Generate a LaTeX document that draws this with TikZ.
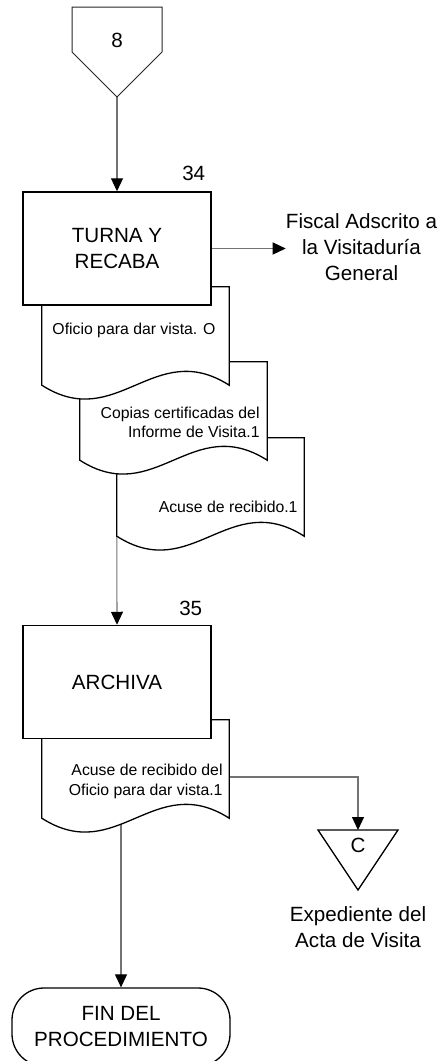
\documentclass[tikz,border=0pt]{standalone}
\usepackage{fontspec}
\setmainfont{Liberation Sans}
\usetikzlibrary{arrows.meta,backgrounds,positioning}

\begin{document}
\begin{tikzpicture}[
  x=1pt, y=-1pt,
  >={Triangle[color=black, length=13pt, width=12pt]},
  bigtext/.style={font=\fontsize{20.6}{26}\selectfont, align=center, inner sep=0pt},
  smalltext/.style={font=\fontsize{15.8}{19.5}\selectfont, align=right, inner sep=0pt},
  process/.style={draw, line width=1.5pt, fill=white, minimum width=188pt, minimum height=113pt, bigtext},
  docframe/.style={minimum width=187pt, minimum height=98pt, inner sep=0pt},
  docline/.style={draw, line width=1.3pt, fill=white},
  connshape/.style={draw=black!85, line width=1pt, fill=white},
  terminal/.style={draw, line width=1.3pt, fill=white, rounded corners=32pt, minimum width=218pt, minimum height=78pt, bigtext},
  arrow/.style={->, draw=black!55, line width=1.1pt}
]
  \useasboundingbox (0,0) rectangle (443,1061);

  % off-page connector
  \path[connshape] (72,7) -- (162,7) -- (162,52) -- (117,97) coordinate (ochotip) -- (72,52) -- cycle
    node[bigtext] (ocho) at (117,40) {8};

  % document frames
  \node[docframe] (acuse)       at (210.5, 487) {};
  \node[docframe] (copias)      at (173.5, 411) {};
  \node[docframe] (oficio)      at (135.5, 336) {};
  \node[docframe] (acuseoficio) at (135.5, 769) {};

  \path[docline] (acuse.north west) -- (acuse.north east) -- (acuse.south east)
    .. controls +(-75,-48) and +(75,48) .. (acuse.south west) -- cycle
    node[smalltext, anchor=east] (acusetext) at ([shift={(-6pt,-20pt)}]acuse.east) {Acuse de recibido.1};

  \path[docline] (copias.north west) -- (copias.north east) -- (copias.south east)
    .. controls +(-75,-48) and +(75,48) .. (copias.south west) -- cycle
    node[smalltext, anchor=east] (copiastext) at ([shift={(-7pt,-11.5pt)}]copias.east) {Copias certificadas del\\Informe de Visita.1};

  \path[docline] (oficio.north west) -- (oficio.north east) -- (oficio.south east)
    .. controls +(-75,-48) and +(75,48) .. (oficio.south west) -- cycle
    node[smalltext] (oficiotext) at ([shift={(-1.5pt,6pt)}]oficio.center) {Oficio para dar vista. O};

  \node[process] (turna) at (117, 248.5) {TURNA Y\\RECABA};
  \node[bigtext] (num34) at ([shift={(-18pt,18pt)}]turna.north east) {34};

  \node[bigtext] (fiscal) at (361.5, 247) {Fiscal Adscrito a\\la Visitaduría\\General};

  \path[docline] (acuseoficio.north west) -- (acuseoficio.north east) -- (acuseoficio.south east)
    .. controls +(-75,-48) and +(75,48) .. (acuseoficio.south west) -- cycle
    node[smalltext, anchor=east] (acuseoficiotext) at ([shift={(-6pt,-12.5pt)}]acuseoficio.east) {Acuse de recibido del\\Oficio para dar vista.1};

  \node[process] (archiva) at (117, 682) {ARCHIVA};
  \node[bigtext] (num35) at ([shift={(-21pt,16pt)}]archiva.north east) {35};

  % connector to file
  \path[connshape, draw=black, line width=1.3pt] (318,830) -- (358,830) coordinate (ctop) -- (398,830) -- (358,890) -- cycle
    node[bigtext] (letrac) at (358,845) {C};
  \node[bigtext] (expediente) at (358, 927.5) {Expediente del\\Acta de Visita};

  \node[terminal] (fin) at (121, 1027) {FIN DEL\\PROCEDIMIENTO};

  \begin{pgfonlayer}{background}
    \draw[arrow] (ochotip) -- (turna);
    \draw[arrow] (turna.east) -- (turna.east -| fiscal.west);
    \draw[arrow] (acuse.south west) -- (archiva.north);
    \draw[arrow] ([yshift=-8pt]acuseoficio.east) -| (ctop);
    \draw[arrow] (fin.north |- acuseoficio.south) -- (fin.north);
  \end{pgfonlayer}
\end{tikzpicture}
\end{document}
